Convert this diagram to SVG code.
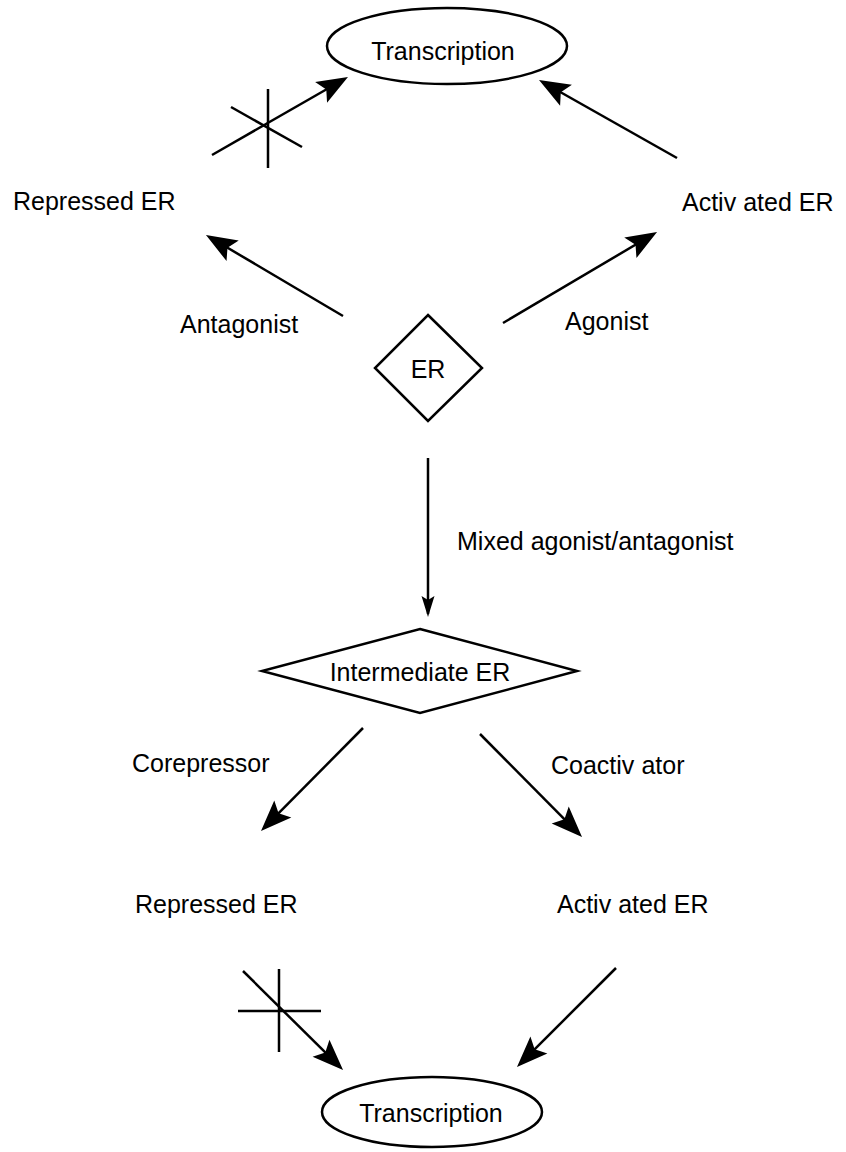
<svg xmlns="http://www.w3.org/2000/svg" width="846" height="1152" viewBox="0 0 846 1152">
<style>
text{font-family:"Liberation Sans",Arial,sans-serif;font-size:25px;fill:#000}
.shape{fill:#fff;stroke:#000;stroke-width:2.5}
.edge{stroke:#000;stroke-width:2.5;fill:none}
.lbl{text-anchor:start}
.mid{text-anchor:middle}
</style>
<defs>
<marker id="arr" markerUnits="userSpaceOnUse" orient="auto" refX="0" refY="0" markerWidth="40" markerHeight="30" overflow="visible">
<path d="M4,0 L-27,-12 L-21,0 L-27,12 Z" fill="#000"/>
</marker>
<marker id="arrS" markerUnits="userSpaceOnUse" orient="auto" refX="0" refY="0" markerWidth="30" markerHeight="20" overflow="visible">
<path d="M3,0 L-18,-6.5 L-14,0 L-18,6.5 Z" fill="#000"/>
</marker>
</defs>
<rect width="846" height="1152" fill="#fff"/>
<g id="connectors">
<line class="edge" x1="212" y1="155" x2="344.5" y2="79" marker-end="url(#arr)"/>
<line class="edge" x1="268" y1="89" x2="268" y2="168"/>
<line class="edge" x1="231" y1="107" x2="302" y2="147"/>
<line class="edge" x1="677" y1="158" x2="542.5" y2="82" marker-end="url(#arr)"/>
<line class="edge" x1="343" y1="316" x2="209.4" y2="237" marker-end="url(#arr)"/>
<line class="edge" x1="503" y1="323" x2="653.6" y2="234" marker-end="url(#arr)"/>
<line class="edge" x1="428" y1="458" x2="428" y2="614" marker-end="url(#arrS)"/>
<line class="edge" x1="363" y1="728" x2="263.8" y2="828.2" marker-end="url(#arr)"/>
<line class="edge" x1="480" y1="734" x2="579.2" y2="834.2" marker-end="url(#arr)"/>
<line class="edge" x1="243" y1="971" x2="340.2" y2="1067.2" marker-end="url(#arr)"/>
<line class="edge" x1="279" y1="969" x2="279" y2="1052"/>
<line class="edge" x1="238" y1="1011" x2="321" y2="1011"/>
<line class="edge" x1="616" y1="968" x2="519.8" y2="1064.2" marker-end="url(#arr)"/>
<text class="lbl" x="180" y="333">Antagonist</text>
<text class="lbl" x="565" y="330">Agonist</text>
<text class="lbl" x="457" y="550">Mixed agonist/antagonist</text>
<text class="lbl" x="132" y="772">Corepressor</text>
<text class="lbl" x="551" y="774">Coactiv<tspan dx="7">ator</tspan></text>
</g>
<g id="transcription-top">
<ellipse class="shape" cx="447" cy="46" rx="120" ry="38"/>
<text class="mid" x="443" y="60">Transcription</text>
</g>
<g id="repressed-er-top">
<text class="lbl" x="13" y="210">Repressed ER</text>
</g>
<g id="activated-er-top">
<text class="lbl" x="682" y="211">Activ<tspan dx="7">ated ER</tspan></text>
</g>
<g id="er">
<polygon class="shape" points="428,315 482,368 428,421 375,368"/>
<text class="mid" x="428" y="378">ER</text>
</g>
<g id="intermediate-er">
<polygon class="shape" points="420,629 577,671 420,713 262,671"/>
<text class="mid" x="420" y="681">Intermediate ER</text>
</g>
<g id="repressed-er-bottom">
<text class="lbl" x="135" y="913">Repressed ER</text>
</g>
<g id="activated-er-bottom">
<text class="lbl" x="557" y="913">Activ<tspan dx="7">ated ER</tspan></text>
</g>
<g id="transcription-bottom">
<ellipse class="shape" cx="432" cy="1112" rx="110" ry="35"/>
<text class="mid" x="431" y="1122">Transcription</text>
</g>
</svg>
